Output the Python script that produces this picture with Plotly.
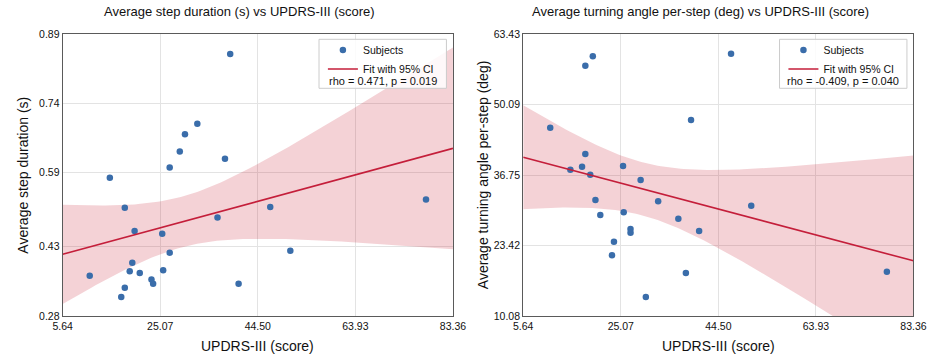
import numpy as np
import plotly.graph_objects as go

# ---------------- data ----------------
updrs_dur = [39.0, 32.45, 29.99, 28.96, 37.96, 26.95, 15.03, 18.01, 77.99, 46.97,
             36.47, 19.96, 25.46, 50.97, 26.95, 19.50, 18.99, 20.99, 25.65, 11.02,
             23.32, 23.65, 40.67, 18.01, 17.30]
step_dur = [0.847, 0.696, 0.673, 0.636, 0.620, 0.601, 0.579, 0.514, 0.532, 0.516,
            0.493, 0.464, 0.458, 0.421, 0.417, 0.395, 0.377, 0.373, 0.379, 0.367,
            0.359, 0.350, 0.350, 0.341, 0.321]

updrs_turn = [47.03, 19.50, 18.01, 39.06, 11.02, 18.01, 25.52, 17.36, 15.03, 18.99,
              29.02, 20.02, 32.51, 51.05, 25.65, 20.99, 36.53, 27.01, 27.01, 40.67,
              23.71, 23.32, 38.03, 78.06, 30.06]
turn_angle = [59.70, 59.21, 57.43, 47.16, 45.70, 40.73, 38.46, 38.33, 37.76, 36.81,
              35.81, 32.03, 31.78, 30.95, 29.70, 29.19, 28.49, 26.54, 25.84, 26.16,
              24.14, 21.56, 18.22, 18.46, 13.68]

x_ticks = ["5.64", "25.07", "44.50", "63.93", "83.36"]
y_ticks_dur = ["0.28", "0.43", "0.59", "0.74", "0.89"]
y_ticks_turn = ["10.08", "23.42", "36.75", "50.09", "63.43"]

stats_dur = "rho = 0.471, p = 0.019"
stats_turn = "rho = -0.409, p = 0.040"

titles = ["Average step duration (s) vs UPDRS-III (score)",
          "Average turning angle per-step (deg) vs UPDRS-III (score)"]
ylabels = ["Average step duration (s)", "Average turning angle per-step (deg)"]
xlabel = "UPDRS-III (score)"

# ---------------- styling ----------------
W, H = 946, 354
MT, MB = 34, 38
PH = H - MT - MB
FONT = "Liberation Sans, Arial, sans-serif"
BLUE = "#3A6DAA"
RED = "#C41E3A"
FILL = "rgba(200,30,50,0.20)"
FRAME = "#5a5a5a"
GRID = "#e3e3e3"
TXT = "#111111"
T_CRIT = 2.0687  # t(0.975, df=23)


def px_x(p):
    return p / W


def px_y(p):
    return 1 - (p - MT) / PH


def fit_ci(x, y, lo, hi):
    x = np.asarray(x, float)
    y = np.asarray(y, float)
    n = len(x)
    b, a = np.polyfit(x, y, 1)
    resid = y - (a + b * x)
    s = np.sqrt(np.sum(resid ** 2) / (n - 2))
    xm = x.mean()
    sxx = np.sum((x - xm) ** 2)
    xs = np.linspace(lo, hi, 120)
    ys = a + b * xs
    half = T_CRIT * s * np.sqrt(1 / n + (xs - xm) ** 2 / sxx)
    return xs, ys, ys - half, ys + half


fig = go.Figure()

panels = [
    dict(x=updrs_dur, y=step_dur, yt=y_ticks_dur, stats=stats_dur,
         xa="x", ya="y", leg="legend", dom=(54, 454)),
    dict(x=updrs_turn, y=turn_angle, yt=y_ticks_turn, stats=stats_turn,
         xa="x2", ya="y2", leg="legend2", dom=(526, 926)),
]

xlo, xhi = float(x_ticks[0]), float(x_ticks[-1])

for i, p in enumerate(panels):
    xs, ys, lo, hi = fit_ci(p["x"], p["y"], xlo, xhi)
    fig.add_trace(go.Scatter(x=np.concatenate([xs, xs[::-1]]),
                             y=np.concatenate([hi, lo[::-1]]),
                             fill="toself", fillcolor=FILL, mode="lines",
                             line=dict(width=0), hoverinfo="skip",
                             showlegend=False, xaxis=p["xa"], yaxis=p["ya"]))
    fig.add_trace(go.Scatter(x=p["x"], y=p["y"], mode="markers", name="Subjects",
                             marker=dict(color=BLUE, size=6.5, line=dict(width=0)),
                             xaxis=p["xa"], yaxis=p["ya"], legend=p["leg"]))
    fig.add_trace(go.Scatter(x=xs, y=ys, mode="lines", name="Fit with 95% CI",
                             line=dict(color=RED, width=1.6),
                             xaxis=p["xa"], yaxis=p["ya"], legend=p["leg"]))

layout = dict(
    width=W, height=H,
    margin=dict(l=0, r=0, t=MT, b=MB),
    paper_bgcolor="white", plot_bgcolor="white",
    font=dict(family=FONT, size=11, color=TXT),
    showlegend=True,
)

axis_common = dict(showline=True, linecolor=FRAME, linewidth=1.2, mirror=True,
                   showgrid=True, gridcolor=GRID, gridwidth=1, zeroline=False,
                   ticks="", tickfont=dict(size=10.5, color=TXT, family=FONT))

for i, p in enumerate(panels):
    suffix = "" if i == 0 else str(i + 1)
    ylo, yhi = float(p["yt"][0]), float(p["yt"][-1])
    layout["xaxis" + suffix] = dict(
        axis_common, domain=[px_x(p["dom"][0]), px_x(p["dom"][1])],
        range=[xlo, xhi], tickvals=[float(t) for t in x_ticks], ticktext=x_ticks,
        anchor="y" + suffix)
    layout["yaxis" + suffix] = dict(
        axis_common, domain=[0, 1], range=[ylo, yhi],
        tickvals=[float(t) for t in p["yt"]], ticktext=p["yt"],
        anchor="x" + suffix)

shapes = []
annotations = []
box_w = 130.6
for i, p in enumerate(panels):
    x1 = p["dom"][1] - 6.7
    x0 = x1 - box_w
    shapes.append(dict(type="rect", xref="paper", yref="paper",
                       x0=px_x(x0), x1=px_x(x1), y0=px_y(88.3), y1=px_y(39.3),
                       line=dict(color="#cccccc", width=1),
                       fillcolor="rgba(255,255,255,0.85)", layer="above"))
    layout[p["leg"]] = dict(x=px_x(x0 + 4), y=px_y(35.5), xanchor="left", yanchor="top",
                            bgcolor="rgba(0,0,0,0)", borderwidth=0,
                            font=dict(size=10.5, color=TXT, family=FONT),
                            tracegroupgap=0)
    annotations.append(dict(text=p["stats"], xref="paper", yref="paper",
                            x=px_x((x0 + x1) / 2), y=px_y(80.5), showarrow=False,
                            xanchor="center", yanchor="middle",
                            font=dict(size=11, color=TXT, family=FONT)))
    cx = (p["dom"][0] + p["dom"][1]) / 2
    annotations.append(dict(text=titles[i], xref="paper", yref="paper",
                            x=px_x(cx - 18.5), y=px_y(11.5), showarrow=False,
                            xanchor="center", yanchor="middle",
                            font=dict(size=13, color=TXT, family=FONT)))
    annotations.append(dict(text=xlabel, xref="paper", yref="paper",
                            x=px_x(cx), y=px_y(346), showarrow=False,
                            xanchor="center", yanchor="middle",
                            font=dict(size=14, color=TXT, family=FONT)))
    annotations.append(dict(text=ylabels[i], xref="paper", yref="paper",
                            x=px_x(p["dom"][0] - 41), y=px_y(175), showarrow=False,
                            textangle=-90, xanchor="center", yanchor="middle",
                            font=dict(size=14, color=TXT, family=FONT)))

layout["shapes"] = shapes
layout["annotations"] = annotations
fig.update_layout(**layout)

fig.write_html("out.html",
               config={"displayModeBar": False},
               post_script="document.body.style.margin='0';document.body.style.padding='0';")
